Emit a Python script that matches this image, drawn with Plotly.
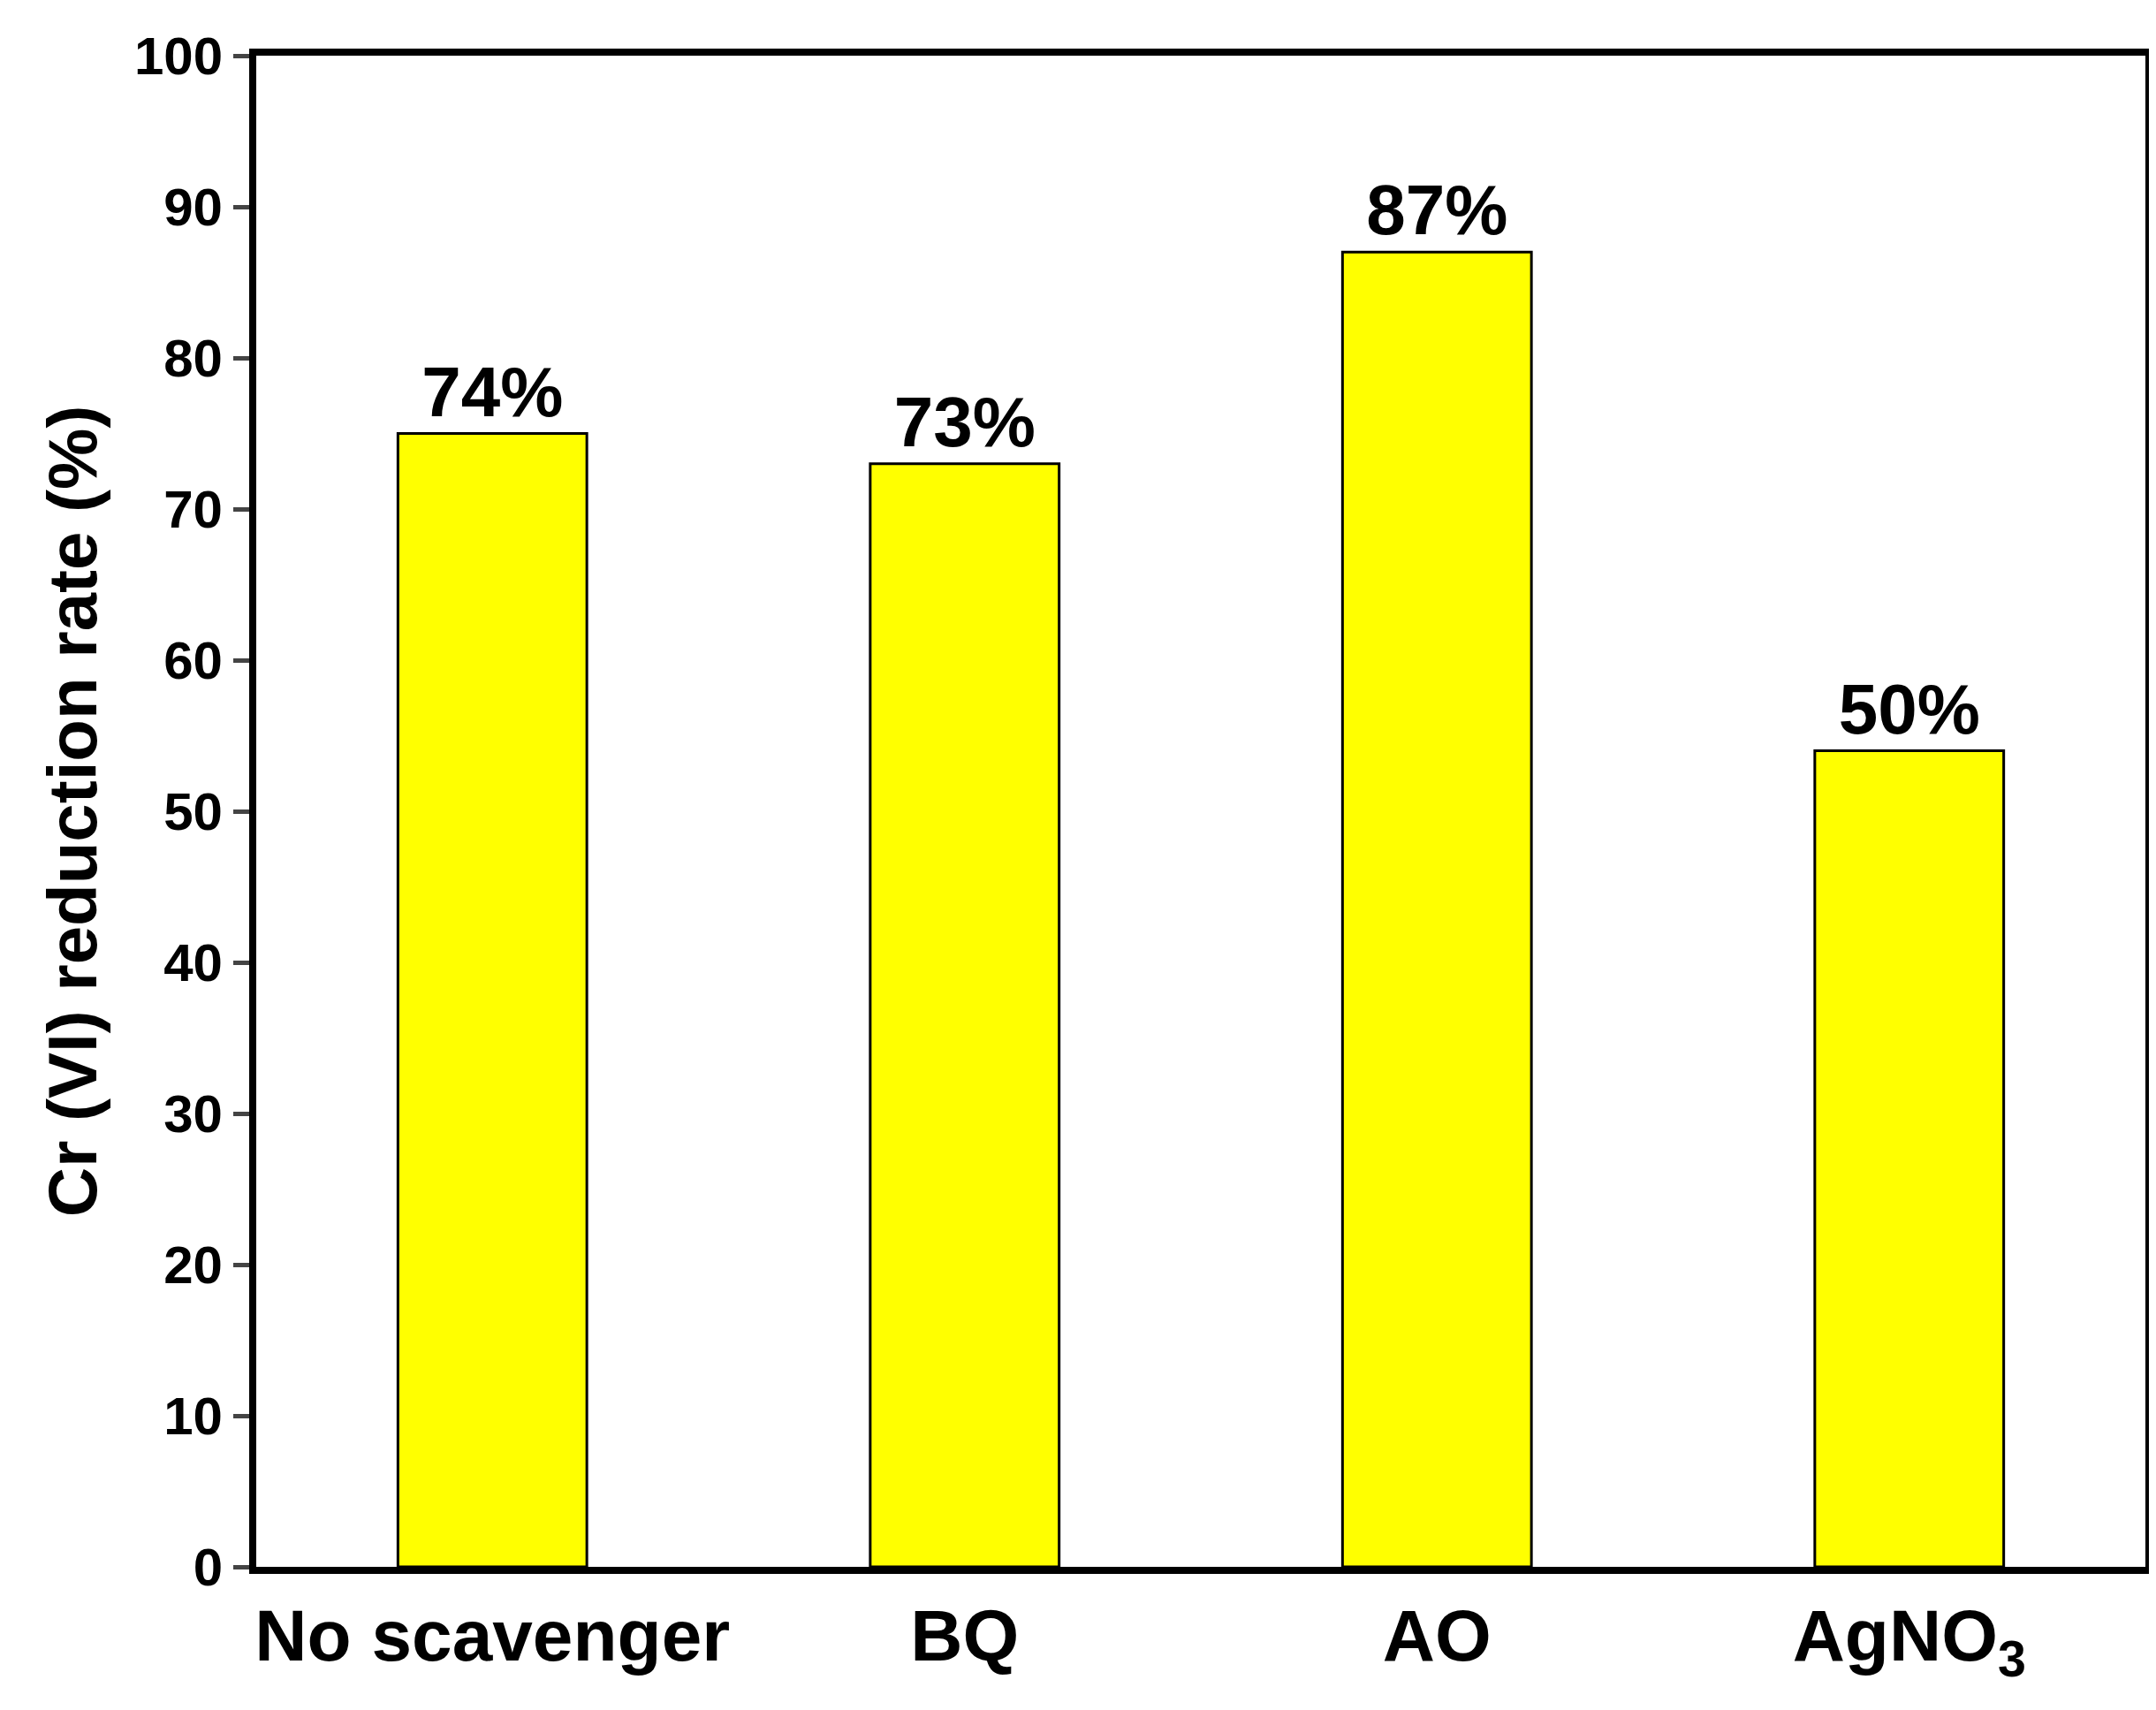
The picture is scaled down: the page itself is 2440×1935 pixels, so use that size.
import plotly.graph_objects as go

categories = ["No scavenger", "BQ", "AO", "AgNO<sub>3</sub>"]
heights = [75, 73, 87, 54]
labels = ["74%", "73%", "87%", "50%"]
yticks = [0, 10, 20, 30, 40, 50, 60, 70, 80, 90, 100]

F = "Liberation Sans, Arial, sans-serif"
fig = go.Figure(go.Bar(
    x=list(range(len(categories))), y=heights, text=labels, textposition="outside",
    texttemplate="%{text}",
    textfont=dict(family=F, size=80, color="black", weight="bold"), cliponaxis=False,
    marker=dict(color="#ffff00", line=dict(color="black", width=3)), width=0.4,
))
fig.update_layout(
    width=2440, height=1935, plot_bgcolor="white", paper_bgcolor="white",
    margin=dict(l=282, r=20, t=55, b=170), showlegend=False,
    font=dict(family=F, color="black"),
)
fig.update_xaxes(range=[-0.5, 3.5], tickvals=list(range(len(categories))), ticktext=categories,
                 tickfont=dict(family=F, size=82, color="black", weight="bold"), ticks="",
                 showline=True, linewidth=8, linecolor="black", mirror=True, showgrid=False)
fig.update_yaxes(range=[0, 100], tickvals=yticks, ticks="outside", ticklen=18, tickwidth=5,
                 tickfont=dict(family=F, size=60, color="black", weight="bold"),
                 title=dict(text="Cr (VI) reduction rate (%)",
                            font=dict(family=F, size=78, weight="bold"), standoff=20),
                 showline=True, linewidth=8, linecolor="black", mirror=True, showgrid=False, zeroline=False)
fig.write_html("out.html")
